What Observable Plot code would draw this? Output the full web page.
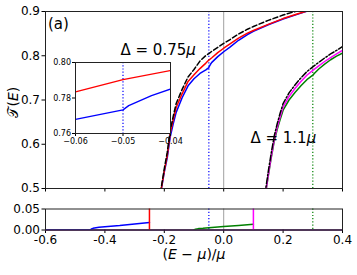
<!DOCTYPE html>
<html><head><meta charset="utf-8">
<script src="https://cdn.jsdelivr.net/npm/d3@7"></script>
<script src="https://cdn.jsdelivr.net/npm/@observablehq/plot@0.6"></script>
<style>
body{margin:0;background:white;}
#c{position:relative;width:357px;height:275px;}
#c svg{position:absolute;left:0;top:0;}
</style></head><body><div id="c"></div>
<script>
const W = 357, H = 275;
// ---- Δ = 0.75μ curves (main panel + inset) ----
const xs075 = [-0.25,-0.24,-0.23,-0.22,-0.21,-0.2,-0.19,-0.18,-0.17,-0.16,-0.14,-0.12,-0.1,-0.08,-0.06,-0.05,-0.04,-0.02,0,0.02,0.05,0.08,0.1,0.15,0.2,0.25,0.3];
const red075 = [0.30,0.37,0.42,0.46,0.50,0.54,0.575,0.625,0.655,0.683,0.714,0.742,0.757,0.771,0.7834,0.7903,0.7955,0.807,0.817,0.826,0.840,0.851,0.857,0.871,0.884,0.895,0.905];
const black075 = [0.305,0.375,0.425,0.465,0.503,0.545,0.582,0.632,0.663,0.692,0.724,0.752,0.769,0.788,0.8005,0.805,0.810,0.819,0.828,0.836,0.849,0.860,0.866,0.880,0.892,0.902,0.911];
const xsBlue = [-0.25,-0.24,-0.23,-0.22,-0.21,-0.2,-0.19,-0.18,-0.17,-0.16,-0.14,-0.12,-0.1,-0.08,-0.06,-0.05,-0.0488,-0.044,-0.04,-0.02,0,0.02,0.05,0.08,0.1,0.15,0.2,0.25,0.3];
const blue075 = [0.30,0.37,0.42,0.46,0.498,0.537,0.570,0.617,0.646,0.672,0.705,0.732,0.748,0.760,0.768,0.7733,0.7757,0.7813,0.785,0.798,0.809,0.819,0.835,0.848,0.855,0.870,0.883,0.894,0.905];
// ---- Δ = 1.1μ curves ----
const xs11 = [0.1,0.11,0.12,0.13,0.14,0.15,0.16,0.17,0.18,0.19,0.2,0.22,0.24,0.26,0.28,0.3,0.32,0.34,0.36,0.38,0.4];
const magenta11 = [0.30,0.36,0.41,0.45,0.485,0.53,0.572,0.61,0.638,0.662,0.684,0.708,0.726,0.742,0.756,0.767,0.777,0.787,0.796,0.804,0.812];
const black11 = [0.305,0.365,0.415,0.455,0.492,0.538,0.58,0.618,0.646,0.670,0.692,0.716,0.734,0.750,0.764,0.775,0.785,0.795,0.804,0.812,0.821];
const xsGreen = [0.1,0.11,0.12,0.13,0.14,0.15,0.16,0.17,0.18,0.19,0.2,0.22,0.24,0.26,0.28,0.3,0.305,0.32,0.34,0.36,0.38,0.4];
const green11 = [0.30,0.36,0.41,0.45,0.485,0.528,0.569,0.606,0.633,0.656,0.677,0.700,0.717,0.732,0.746,0.756,0.760,0.770,0.781,0.791,0.799,0.806];
// ---- lower panel ----
const lowBlueX = [-0.6,-0.45,-0.445,-0.44,-0.43,-0.42,-0.4,-0.35,-0.3,-0.25];
const lowBlueY = [0,0,0.0025,0.004,0.0055,0.0065,0.0075,0.0105,0.0143,0.018];
const lowGreenX = [-0.1,-0.095,-0.085,-0.07,0,0.05,0.1];
const lowGreenY = [0,0.002,0.0033,0.004,0.0085,0.011,0.0135];
const lowRedX = [-0.25,-0.25], lowRedY = [0,0.06];
const lowMagX = [0.1,0.1], lowMagY = [0,0.06];
// ---- reference lines, ticks, labels ----
const gapBlue = [-0.05], gapGreen = [0.3], zeroLine = [0];
const xTicks = [-0.6,-0.4,-0.2,0.0,0.2,0.4];
const yTicksMain = [0.5,0.6,0.7,0.8,0.9];
const yTicksLow = [0,0.05];
const xTicksInset = [-0.06,-0.05,-0.04];
const yTicksInset = [0.76,0.78,0.80];
const annotations = [
  {t:"(a)", x:-0.592, y:0.871},
  {t:"Δ = 0.75μ", x:-0.3475, y:0.812},
  {t:"Δ = 1.1μ", x:0.09, y:0.613}
];
const yLabel = "𝒯(E)", xLabel = "(E − μ)/μ";

const pts = (xs, ys) => xs.map((x,i) => ({x, y: ys[i]}));
const FONT = "'DejaVu Sans', sans-serif";
const baseStyle = (fs) => ({fontFamily: FONT, fontSize: fs, background: "transparent", overflow: "visible", color: "black"});
const ns = "http://www.w3.org/2000/svg";
function rich(svg, full, parts) {
  svg.querySelectorAll("text").forEach(t => {
    if (t.textContent === full) {
      t.textContent = "";
      parts.forEach(([s, it]) => {
        const ts = document.createElementNS(ns, "tspan");
        ts.textContent = s;
        if (it) ts.setAttribute("font-style", "italic");
        t.appendChild(ts);
      });
    }
  });
}
const dotted = "1.2,2";
const curves = (lw) => [
  Plot.line(pts(xsBlue, blue075), {x:"x", y:"y", stroke:"#0000ff", strokeWidth:lw, clip:true}),
  Plot.line(pts(xs075, red075), {x:"x", y:"y", stroke:"#ff0000", strokeWidth:lw, clip:true}),
  Plot.line(pts(xs075, black075), {x:"x", y:"y", stroke:"black", strokeWidth:lw, strokeDasharray:"5,2.5", clip:true}),
  Plot.line(pts(xsGreen, green11), {x:"x", y:"y", stroke:"#008000", strokeWidth:lw, clip:true}),
  Plot.line(pts(xs11, magenta11), {x:"x", y:"y", stroke:"#ff00ff", strokeWidth:lw, clip:true}),
  Plot.line(pts(xs11, black11), {x:"x", y:"y", stroke:"black", strokeWidth:lw, strokeDasharray:"6,2,1.5,2", clip:true})
];

// Main panel
const main = Plot.plot({
  width: W, height: H,
  marginLeft: 45, marginRight: 15, marginTop: 11, marginBottom: H - 188,
  style: baseStyle("12px"),
  x: {domain: [-0.6, 0.4], ticks: xTicks, tickSize: 3.5, tickFormat: () => "", label: null},
  y: {domain: [0.5, 0.9], ticks: yTicksMain, tickSize: 3.5, tickPadding: 2, tickFormat: d => d.toFixed(1), label: null},
  marks: [
    Plot.ruleX(zeroLine, {stroke:"#a0a0a0", strokeWidth:1}),
    Plot.ruleX(gapBlue, {stroke:"#0000ff", strokeWidth:1.2, strokeDasharray:dotted}),
    Plot.ruleX(gapGreen, {stroke:"#008000", strokeWidth:1.2, strokeDasharray:dotted}),
    ...curves(1.5),
    Plot.text(annotations, {x:"x", y:"y", text:"t", textAnchor:"start", fontSize:15}),
    Plot.text([yLabel], {frameAnchor:"left", rotate:-90, dx:-32, dy:17.5, fontSize:14}),
    Plot.frame({stroke:"#222", strokeWidth:1})
  ]
});
rich(main, "Δ = 0.75μ", [["Δ = 0.75",false],["μ",true]]);
rich(main, "Δ = 1.1μ", [["Δ = 1.1",false],["μ",true]]);
rich(main, yLabel, [["𝒯(",false],["E",true],[")",false]]);

// Lower panel
const lower = Plot.plot({
  width: W, height: H,
  marginLeft: 45, marginRight: 15, marginTop: 208.5, marginBottom: H - 229.5,
  style: baseStyle("12px"),
  x: {domain: [-0.6, 0.4], ticks: xTicks, tickSize: 3.5, tickPadding: 2, tickFormat: d => d.toFixed(1), label: null},
  y: {domain: [0, 0.05], ticks: yTicksLow, tickSize: 3.5, tickPadding: 2, tickFormat: d => d.toFixed(2), label: null},
  marks: [
    Plot.ruleX(zeroLine, {stroke:"#a0a0a0", strokeWidth:1}),
    Plot.ruleX(gapBlue, {stroke:"#0000ff", strokeWidth:1.2, strokeDasharray:dotted}),
    Plot.ruleX(gapGreen, {stroke:"#008000", strokeWidth:1.2, strokeDasharray:dotted}),
    Plot.ruleY(zeroLine, {stroke:"#50106a", strokeWidth:1.5}),
    Plot.line(pts(lowBlueX, lowBlueY), {x:"x", y:"y", stroke:"#0000ff", strokeWidth:1.5, clip:true}),
    Plot.line(pts(lowGreenX, lowGreenY), {x:"x", y:"y", stroke:"#008000", strokeWidth:1.5, clip:true}),
    Plot.line(pts(lowRedX, lowRedY), {x:"x", y:"y", stroke:"#ff0000", strokeWidth:1.5, clip:true}),
    Plot.line(pts(lowMagX, lowMagY), {x:"x", y:"y", stroke:"#ff00ff", strokeWidth:1.5, clip:true}),
    Plot.text([xLabel], {frameAnchor:"bottom", dy:28.5, fontSize:14}),
    Plot.frame({stroke:"#222", strokeWidth:1})
  ]
});
rich(lower, xLabel, [["(",false],["E",true],[" − ",false],["μ",true],[")/",false],["μ",true]]);

// Inset
const inset = Plot.plot({
  width: W, height: H,
  marginLeft: 75, marginRight: W - 170, marginTop: 62, marginBottom: H - 133,
  style: baseStyle("8px"),
  x: {domain: [-0.06, -0.04], ticks: xTicksInset, tickSize: 3, tickPadding: 1.5, tickFormat: d => d.toFixed(2).replace("-", "−"), label: null},
  y: {domain: [0.76, 0.80], ticks: yTicksInset, tickSize: 3, tickPadding: 1.5, tickFormat: d => d.toFixed(2), label: null},
  marks: [
    Plot.frame({fill:"white", stroke:"none"}),
    Plot.ruleX(gapBlue, {stroke:"#0000ff", strokeWidth:1.2, strokeDasharray:dotted}),
    ...curves(1.3),
    Plot.frame({stroke:"#222", strokeWidth:1})
  ]
});

const c = document.getElementById("c");
c.appendChild(main);
c.appendChild(lower);
c.appendChild(inset);
</script>
</body></html>
